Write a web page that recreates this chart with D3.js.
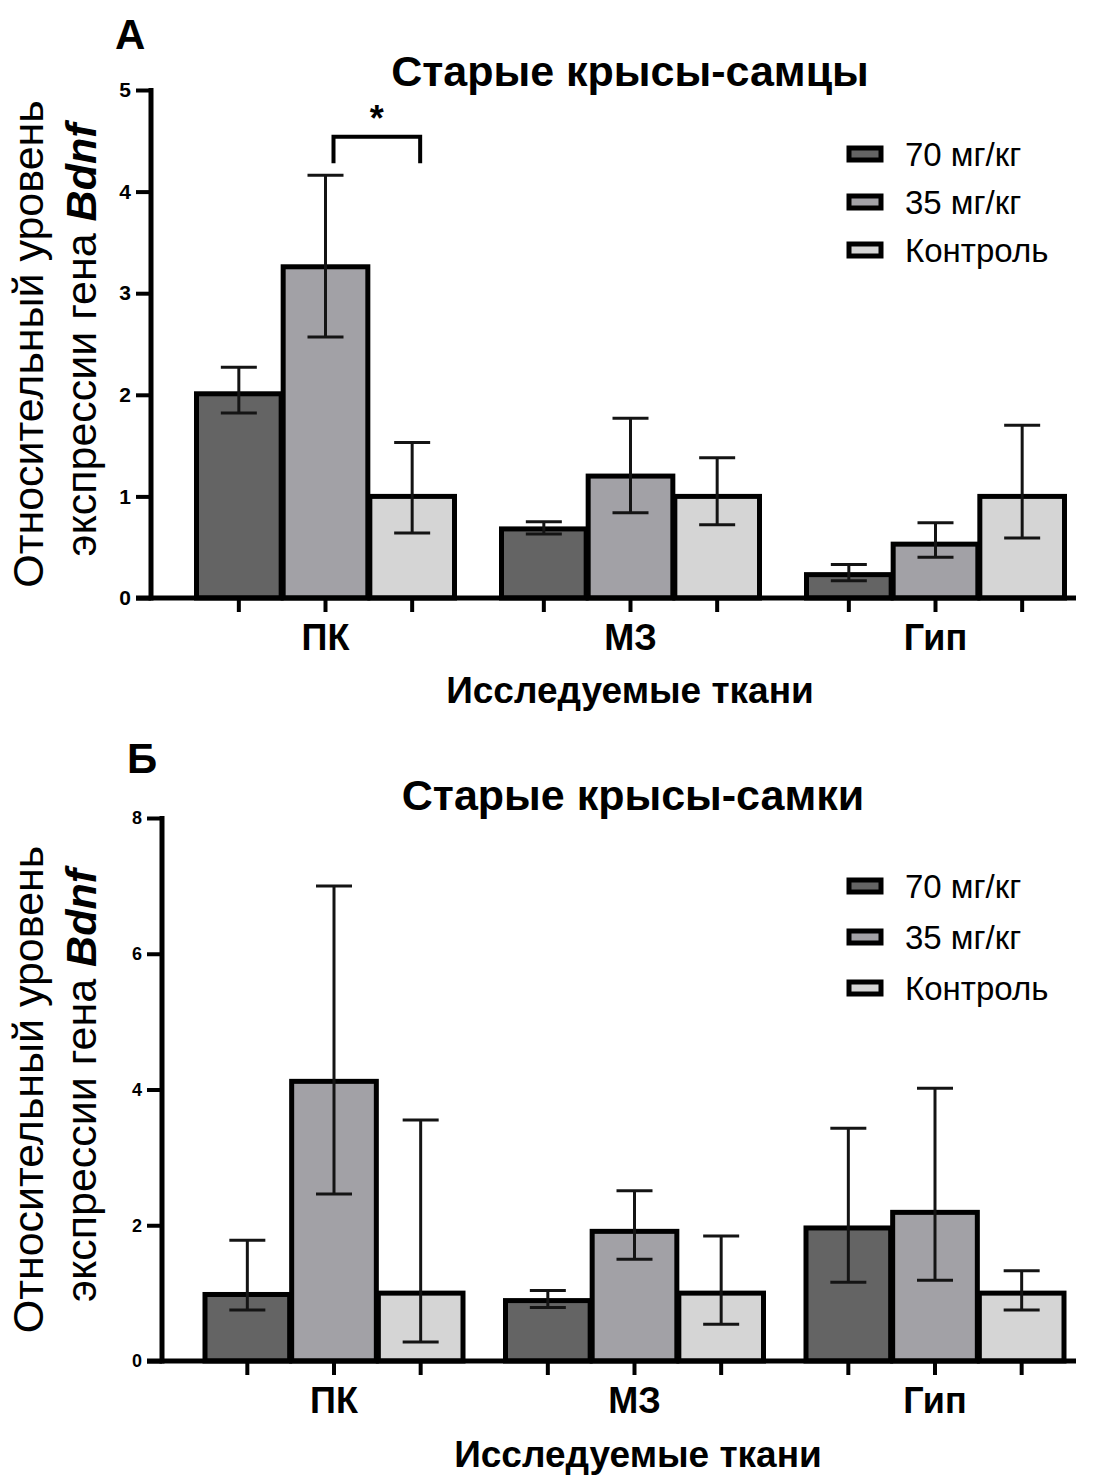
<!DOCTYPE html>
<html>
<head>
<meta charset="utf-8">
<script src="https://cdn.jsdelivr.net/npm/d3@7"></script>
<style>
  body { margin: 0; background: #fff; }
  svg { display: block; }
  text { font-family: "Liberation Sans", Arial, Helvetica, sans-serif; fill: #000; }
  .yaxis-top .tick text { font-size: 21px; font-weight: bold; }
  .yaxis-bottom .tick text { font-size: 18px; font-weight: bold; }
</style>
</head>
<body>
<svg id="fig" width="1105" height="1479"></svg>
<script>
// ---- data ----
const tissues = ["ПК", "МЗ", "Гип"];
const doses = ["70 мг/кг", "35 мг/кг", "Контроль"];

// Old males: mean relative Bdnf expression and error-bar bounds (ПК, МЗ, Гип)
const maleMean70 = [2.01, 0.68, 0.23];
const maleLow70 = [1.82, 0.63, 0.17];
const maleHigh70 = [2.27, 0.75, 0.33];
const maleMean35 = [3.26, 1.20, 0.53];
const maleLow35 = [2.57, 0.84, 0.40];
const maleHigh35 = [4.16, 1.77, 0.74];
const maleMeanCtrl = [1.00, 1.00, 1.00];
const maleLowCtrl = [0.64, 0.72, 0.59];
const maleHighCtrl = [1.53, 1.38, 1.70];
const maleTicks = [0, 1, 2, 3, 4, 5];

// Old females
const femaleMean70 = [0.98, 0.89, 1.96];
const femaleLow70 = [0.75, 0.79, 1.16];
const femaleHigh70 = [1.78, 1.04, 3.43];
const femaleMean35 = [4.12, 1.91, 2.19];
const femaleLow35 = [2.46, 1.50, 1.19];
const femaleHigh35 = [7.00, 2.51, 4.02];
const femaleMeanCtrl = [1.00, 1.00, 1.00];
const femaleLowCtrl = [0.28, 0.54, 0.75];
const femaleHighCtrl = [3.55, 1.84, 1.33];
const femaleTicks = [0, 2, 4, 6, 8];

// Significant pairwise difference in the male panel
const maleSig = { tissue: "ПК", from: "35 мг/кг", to: "Контроль", level: 4.54, drop: 0.26, label: "*" };

// ---- styling / layout ----
const doseColors = ["#646464", "#a2a1a6", "#d5d5d5"];

const panels = [
  {
    letter: "А", title: "Старые крысы-самцы", axisClass: "yaxis-top",
    mean: [maleMean70, maleMean35, maleMeanCtrl],
    low: [maleLow70, maleLow35, maleLowCtrl],
    high: [maleHigh70, maleHigh35, maleHighCtrl],
    ticks: maleTicks, sig: maleSig,
    axisX: 151, base: 598, top: 90, centers: [325.5, 935.5],
    letterPos: [115, 49], titlePos: [630, 86], catY: 650, xTitle: [630, 703],
    legendY: 154, legendStep: 48, yLabelX: [43, 96]
  },
  {
    letter: "Б", title: "Старые крысы-самки", axisClass: "yaxis-bottom",
    mean: [femaleMean70, femaleMean35, femaleMeanCtrl],
    low: [femaleLow70, femaleLow35, femaleLowCtrl],
    high: [femaleHigh70, femaleHigh35, femaleHighCtrl],
    ticks: femaleTicks, sig: null,
    axisX: 162, base: 1361, top: 818, centers: [334, 935],
    letterPos: [127, 773], titlePos: [633, 810], catY: 1413, xTitle: [638, 1467],
    legendY: 886, legendStep: 51, yLabelX: [43, 96]
  }
];

const svg = d3.select("#fig");

panels.forEach(p => {
  const g = svg.append("g");
  const yMax = d3.max(p.ticks);
  const y = d3.scaleLinear().domain([0, yMax]).range([p.base, p.top]);
  const xGroup = d3.scalePoint().domain(tissues).range(p.centers);
  const groupWidth = 260;
  const xDose = d3.scaleBand().domain(doses).range([-groupWidth / 2, groupWidth / 2]);
  const step = xDose.bandwidth();
  const barW = step - 2;
  const barCenter = (t, d) => xGroup(t) + xDose(d) + step / 2;

  // bars
  doses.forEach((d, di) => {
    g.append("g").selectAll("rect")
      .data(tissues.map((t, ti) => ({ t, v: p.mean[di][ti] })))
      .join("rect")
      .attr("x", r => barCenter(r.t, d) - barW / 2)
      .attr("width", barW)
      .attr("y", r => y(r.v))
      .attr("height", r => y(0) - y(r.v))
      .attr("fill", doseColors[di])
      .attr("stroke", "#000")
      .attr("stroke-width", 5);
  });

  // error bars
  const capHalf = 18;
  doses.forEach((d, di) => {
    const eg = g.append("g").attr("stroke", "#141414").attr("stroke-width", 3);
    tissues.forEach((t, ti) => {
      const cx = barCenter(t, d);
      const lo = y(p.low[di][ti]), hi = y(p.high[di][ti]);
      eg.append("line").attr("x1", cx).attr("x2", cx).attr("y1", lo).attr("y2", hi);
      eg.append("line").attr("x1", cx - capHalf).attr("x2", cx + capHalf).attr("y1", hi).attr("y2", hi);
      eg.append("line").attr("x1", cx - capHalf).attr("x2", cx + capHalf).attr("y1", lo).attr("y2", lo);
    });
  });

  // y axis
  const yAxis = d3.axisLeft(y).tickValues(p.ticks).tickSize(15).tickSizeOuter(0).tickPadding(5).tickFormat(d3.format("d"));
  const ya = g.append("g").attr("class", p.axisClass)
    .attr("transform", `translate(${p.axisX},0)`).call(yAxis);
  ya.attr("font-size", null).attr("font-family", null);
  ya.select(".domain").attr("stroke", "#000").attr("stroke-width", 5).attr("d", `M0,${p.base + 2.5}V${p.top - 2}`);
  ya.selectAll(".tick line").attr("stroke", "#000").attr("stroke-width", 4).attr("x2", -15);
  ya.selectAll(".tick text").attr("fill", "#000");

  // x axis line and a tick under every bar
  g.append("line").attr("x1", p.axisX - 15).attr("x2", 1076)
    .attr("y1", p.base).attr("y2", p.base).attr("stroke", "#000").attr("stroke-width", 5);
  tissues.forEach(t => doses.forEach(d => {
    const cx = barCenter(t, d);
    g.append("line").attr("x1", cx).attr("x2", cx).attr("y1", p.base).attr("y2", p.base + 14)
      .attr("stroke", "#000").attr("stroke-width", 4);
  }));
  g.append("g").selectAll("text").data(tissues).join("text")
    .attr("x", t => xGroup(t)).attr("y", p.catY)
    .attr("text-anchor", "middle").attr("font-weight", "bold").attr("font-size", 36)
    .text(t => t);

  // axis titles
  g.append("text").attr("x", p.xTitle[0]).attr("y", p.xTitle[1])
    .attr("text-anchor", "middle").attr("font-weight", "bold").attr("font-size", 37)
    .text("Исследуемые ткани");
  const yMid = (p.base + p.top) / 2;
  g.append("text").attr("transform", `translate(${p.yLabelX[0]},${yMid}) rotate(-90)`)
    .attr("text-anchor", "middle").attr("font-size", 43).text("Относительный уровень");
  const l2 = g.append("text").attr("transform", `translate(${p.yLabelX[1]},${yMid - 4}) rotate(-90)`)
    .attr("text-anchor", "middle").attr("font-size", 43);
  l2.append("tspan").text("экспрессии гена ");
  l2.append("tspan").attr("font-style", "italic").attr("font-weight", "bold").text("Bdnf");

  // panel letter and title
  g.append("text").attr("x", p.letterPos[0]).attr("y", p.letterPos[1])
    .attr("font-weight", "bold").attr("font-size", 42).text(p.letter);
  g.append("text").attr("x", p.titlePos[0]).attr("y", p.titlePos[1])
    .attr("text-anchor", "middle").attr("font-weight", "bold").attr("font-size", 43).text(p.title);

  // legend
  const lg = g.append("g").attr("transform", `translate(849,${p.legendY})`);
  doses.forEach((d, di) => {
    const row = lg.append("g").attr("transform", `translate(0,${di * p.legendStep})`);
    row.append("rect").attr("x", 0).attr("y", -6).attr("width", 32).attr("height", 12)
      .attr("fill", doseColors[di]).attr("stroke", "#000").attr("stroke-width", 5);
    row.append("text").attr("x", 56).attr("y", 12).attr("font-size", 33).text(d);
  });

  // significance bracket
  if (p.sig) {
    const s = p.sig, off = 8;
    const x1 = barCenter(s.tissue, s.from) + off, x2 = barCenter(s.tissue, s.to) + off;
    const yb = y(s.level), ye = y(s.level - s.drop);
    g.append("path").attr("d", `M${x1},${ye}V${yb}H${x2}V${ye}`)
      .attr("fill", "none").attr("stroke", "#000").attr("stroke-width", 4);
    g.append("text").attr("x", (x1 + x2) / 2).attr("y", yb - 6)
      .attr("text-anchor", "middle").attr("font-weight", "bold").attr("font-size", 36).text(s.label);
  }
});
</script>
</body>
</html>
